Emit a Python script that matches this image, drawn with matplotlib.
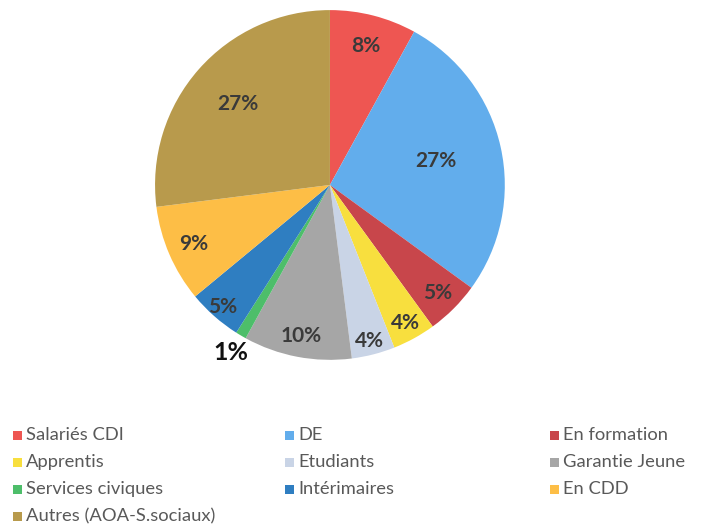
import numpy as np
import matplotlib
matplotlib.use("Agg")
import matplotlib.pyplot as plt
from matplotlib.patches import Rectangle

plt.rcParams['font.family'] = ['Lato', 'DejaVu Sans']

labels = ["Salariés CDI", "DE", "En formation", "Apprentis", "Etudiants",
          "Garantie Jeune", "Services civiques", "Intérimaires", "En CDD",
          "Autres (AOA-S.sociaux)"]
values = [8, 27, 5, 4, 4, 10, 1, 5, 9, 27]
colors = ["#EE5652", "#62ADEC", "#C8464B", "#F8DF3E", "#C9D4E6",
          "#A6A6A6", "#4DBE6A", "#2F7EC1", "#FDBE46", "#B89A4C"]
# radial position of each percentage label, as a fraction of the radius
label_dist = [0.82, 0.62, 0.87, 0.90, 0.92, 0.88, 1.11, 0.93, 0.85, 0.70]

fig = plt.figure(figsize=(7.08, 5.24), dpi=100)
ax = fig.add_axes([0.219, 0.313, 0.494, 0.668])

wedges, _ = ax.pie(values, colors=colors, startangle=90, counterclock=False,
                   wedgeprops=dict(linewidth=0))
ax.set_xlim(-1, 1)
ax.set_ylim(-1, 1)
ax.set_aspect('equal')

total = sum(values)
start = 90.0
for v, d in zip(values, label_dist):
    mid = np.deg2rad(start - 360.0 * v / total / 2)
    start -= 360.0 * v / total
    x, y = d * np.cos(mid), d * np.sin(mid)
    if d > 1:
        ax.text(x, y, f"{v}%", ha='center', va='center', fontsize=18,
                fontweight='bold', color='#111111')
    else:
        ax.text(x, y, f"{v}%", ha='center', va='center', fontsize=15,
                fontweight='bold', color='#3A3A3A')

# legend laid out row by row in three columns
col_x = [13, 285, 550]
row_y = [435, 462, 489, 516]
W, H = 708, 524
for i, (lab, c) in enumerate(zip(labels, colors)):
    cx = col_x[i % 3]
    cy = row_y[i // 3]
    fig.patches.append(Rectangle((cx / W, 1 - (cy + 5) / H), 9 / W, 9 / H,
                                 transform=fig.transFigure, facecolor=c,
                                 edgecolor='none'))
    fig.text((cx + 13) / W, 1 - cy / H, lab, ha='left', va='center',
             fontsize=13.2, color='#595959')

fig.savefig("out.png", dpi=100, facecolor='white')
